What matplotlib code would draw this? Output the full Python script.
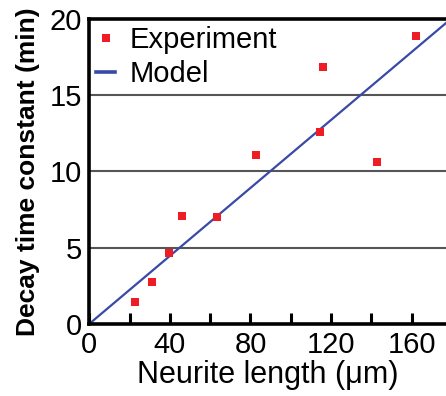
import numpy as np
from matplotlib import pyplot as plt

plt.rcParams['font.family'] = ['Liberation Sans', 'DejaVu Sans']

# experiment data
length_um = [22.8, 31.2, 39.6, 45.9, 63.4, 82.5, 114.4, 116.0, 142.6, 162.2]
decay_min = [1.46, 2.73, 4.68, 7.08, 7.04, 11.06, 12.57, 16.85, 10.6, 18.9]

# model: straight line through origin
model_x = [0, 180]
model_slope = 0.1115

x_ticks = [0, 40, 80, 120, 160]
y_ticks = [0, 5, 10, 15, 20]

fig = plt.figure(figsize=(4.46, 3.96), dpi=100)
ax = fig.add_axes([0.2, 0.182, 0.8, 0.77])

for y in [5, 10, 15]:
    ax.axhline(y, color='#555555', lw=1.5, zorder=1)

ax.plot(model_x, [model_slope * v for v in model_x], color='#3949a6', lw=1.6,
        label='Model', zorder=2)
ax.plot(length_um, decay_min, 's', color='#ee1c25', ms=5.8, mew=0,
        label='Experiment', zorder=3)

ax.set_xlim(0, 177)
ax.set_ylim(0, 20)
ax.set_xticks(x_ticks)
ax.set_xticks(range(20, 180, 40), minor=True)
ax.set_yticks(y_ticks)
ax.tick_params(axis='x', which='both', direction='in', length=8, width=2.2,
               labelsize=21, pad=5)
ax.tick_params(axis='y', length=0, labelsize=21, pad=5)

for side in ['left', 'bottom', 'top']:
    ax.spines[side].set_linewidth(2.6)
ax.spines['right'].set_visible(False)

ax.set_xlabel('Neurite length (\u03bcm)', fontsize=22, labelpad=1)
ax.set_ylabel('Decay time constant (min)', fontsize=19, fontweight='bold',
              labelpad=7)

handles, labels = ax.get_legend_handles_labels()
leg = ax.legend(handles[::-1], labels[::-1], loc='upper left', frameon=False,
                fontsize=21, handlelength=0.65, handletextpad=0.5,
                borderaxespad=0.1, borderpad=0.15, labelspacing=0.2)
leg.get_lines()[1].set_linewidth(2.6)

fig.savefig('out.png', dpi=100)
